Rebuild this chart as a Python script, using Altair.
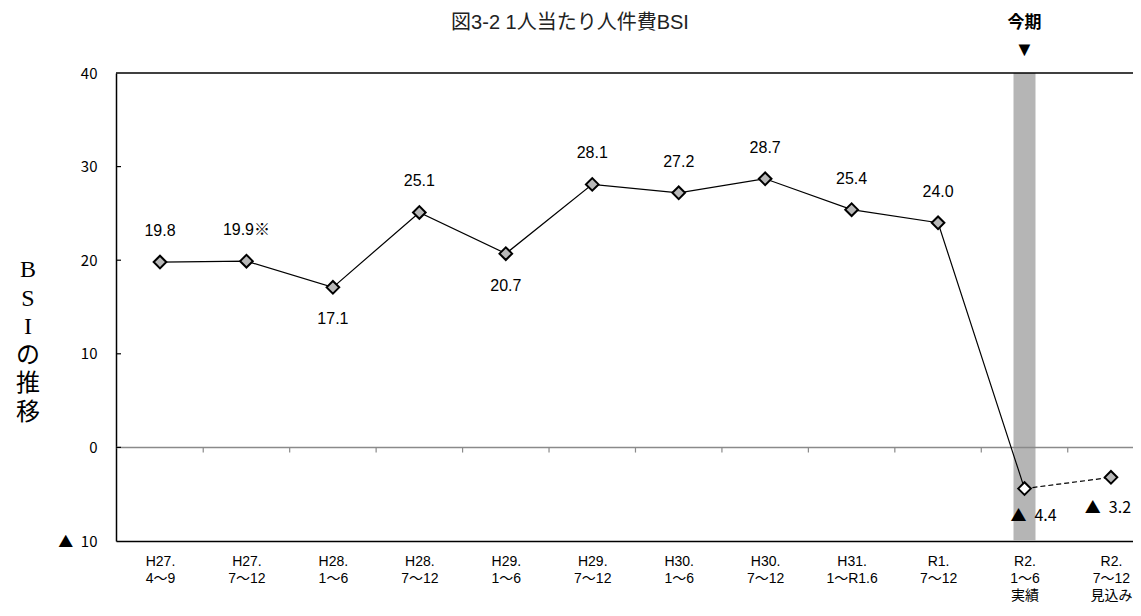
import json
import altair as alt
import pandas as pd

# ---------------- data ----------------
title_text = "図3-2 1人当たり人件費BSI"
period_line1 = ["H27.", "H27.", "H28.", "H28.", "H29.", "H29.", "H30.", "H30.", "H31.", "R1.", "R2.", "R2."]
period_line2 = ["4～9", "7～12", "1～6", "7～12", "1～6", "7～12", "1～6", "7～12", "1～R1.6", "7～12", "1～6", "7～12"]
period_line3 = ["", "", "", "", "", "", "", "", "", "", "実績", "見込み"]
bsi_values = [19.8, 19.9, 17.1, 25.1, 20.7, 28.1, 27.2, 28.7, 25.4, 24.0, -4.4, -3.2]
label_notes = ["", "※", "", "", "", "", "", "", "", "", "", ""]
labels_below = [2, 4]
current_index = 10
current_label = "今期"
current_marker = "▼"
y_ticks = [40, 30, 20, 10, 0, -10]
y_title_chars = ["B", "S", "I", "の", "推", "移"]

# ---------------- layout ----------------
W, H = 1017, 468
PAD = {"left": 108, "top": 65, "right": 0, "bottom": 62}
SANS = "'Liberation Sans', 'Noto Sans CJK JP', sans-serif"
CJK = "'Noto Sans CJK JP', sans-serif"
SERIF = "'Liberation Serif', 'Noto Sans CJK JP', serif"

n = len(bsi_values)
idx = list(range(n))
labels = [("▲\u2002" if v < 0 else "") + f"{abs(v):.1f}" + note for v, note in zip(bsi_values, label_notes)]
pos = []
for i, v in enumerate(bsi_values):
    if v < 0:
        pos.append("cur" if i == current_index else "fut")
    else:
        pos.append("below" if i in labels_below else "above")
df = pd.DataFrame({"idx": idx, "v": bsi_values, "label": labels, "pos": pos})

axis_labels = []
for a, b, c in zip(period_line1, period_line2, period_line3):
    axis_labels.append([a, b] + ([c] if c else []))
label_expr = json.dumps(axis_labels, ensure_ascii=False) + "[datum.value]"

xscale = alt.Scale(domain=[-0.509, 11.255], nice=False, zero=False, padding=0)
yscale = alt.Scale(domain=[-10, 40], nice=False, zero=False, padding=0)

X = alt.X("idx:Q", scale=xscale, axis=alt.Axis(
    values=idx, labelExpr=label_expr, title=None, grid=False, ticks=False,
    domainColor="black", domainWidth=1.5, labelFont=SANS, labelFontSize=14,
    labelColor="black", labelPadding=13, labelLineHeight=17, labelOverlap=False,
    labelFlush=False, labelBound=False, labelBaseline="top"))
Y = alt.Y("v:Q", scale=yscale, axis=alt.Axis(
    values=y_ticks, labelExpr="datum.value < 0 ? '▲\u2002' + abs(datum.value) : datum.value",
    title=None, grid=False, ticks=False, domainColor="black", domainWidth=1.5,
    labelFont=CJK, labelFontSize=15, labelColor="black", labelPadding=19))

base = alt.Chart(df)

band_df = pd.DataFrame({"i": [current_index], "top": [max(y_ticks)], "bot": [min(y_ticks)]})
band = alt.Chart(band_df).mark_bar(size=22, color="#b5b5b5").encode(
    x=alt.X("i:Q", scale=xscale), y=alt.Y("top:Q", scale=yscale), y2="bot:Q")

zero_line = alt.Chart(pd.DataFrame({"z": [0]})).mark_rule(color="#8a8a8a", strokeWidth=1.5).encode(
    y=alt.Y("z:Q", scale=yscale), x=alt.value(0), x2=alt.value(W))

bounds = pd.DataFrame({"b": [i + 0.5 for i in range(n - 1)], "z": 0, "z2": -0.55})
bound_ticks = alt.Chart(bounds).mark_rule(color="#8a8a8a", strokeWidth=1.2).encode(
    x=alt.X("b:Q", scale=xscale), y=alt.Y("z:Q", scale=yscale), y2="z2:Q")

top_border = alt.Chart(pd.DataFrame({"t": [max(y_ticks)]})).mark_rule(color="black", strokeWidth=1.5).encode(
    y=alt.Y("t:Q", scale=yscale), x=alt.value(0), x2=alt.value(W))

ytick_marks = alt.Chart(pd.DataFrame({"t": y_ticks[1:-1]})).mark_rule(color="black", strokeWidth=1.2).encode(
    y=alt.Y("t:Q", scale=yscale), x=alt.value(0), x2=alt.value(5))

solid = base.transform_filter(f"datum.idx <= {current_index}").mark_line(
    color="black", strokeWidth=1.2).encode(x=X, y=Y)
dashed = base.transform_filter(f"datum.idx >= {current_index}").mark_line(
    color="black", strokeWidth=1.2, strokeDash=[5, 3]).encode(x=X, y=Y)

points = base.mark_point(shape="diamond", size=160, filled=True, stroke="black",
                         strokeWidth=2, opacity=1).encode(
    x=X, y=Y,
    fill=alt.condition(f"datum.idx == {current_index}", alt.value("white"), alt.value("#b8b8b8")))

txt = dict(font=SANS, fontSize=16, color="black")
above = base.transform_filter("datum.pos == 'above'").mark_text(dy=-31, **txt).encode(
    x=X, y=Y, text="label:N")
below = base.transform_filter("datum.pos == 'below'").mark_text(dy=32, **txt).encode(
    x=X, y=Y, text="label:N")
neg_cur = base.transform_filter("datum.pos == 'cur'").mark_text(
    dy=27, dx=9, font=CJK, fontSize=16, color="black").encode(x=X, y=Y, text="label:N")
neg_fut = base.transform_filter("datum.pos == 'fut'").mark_text(
    dy=31, dx=-3, font=CJK, fontSize=16, color="black").encode(x=X, y=Y, text="label:N")

one = pd.DataFrame({"i": [current_index], "t": [current_label], "m": [current_marker]})
cur_text = alt.Chart(one).mark_text(font=CJK, fontSize=17, fontWeight="bold", color="black").encode(
    x=alt.X("i:Q", scale=xscale), y=alt.value(-50), text="t:N")
cur_mark = alt.Chart(one).mark_text(font=SANS, fontSize=20, color="black").encode(
    x=alt.X("i:Q", scale=xscale), y=alt.value(-23), text="m:N")

title_mark = alt.Chart(pd.DataFrame({"t": [title_text]})).mark_text(
    font=SANS, fontSize=20, color="#222222", baseline="alphabetic").encode(
    x=alt.value(570 - 116), y=alt.value(-44), text="t:N")

ytitle = alt.Chart(pd.DataFrame({"a": [0]})).mark_text(
    text=y_title_chars, font=SERIF, fontSize=24, lineHeight=28.6, color="black",
    baseline="middle").encode(x=alt.value(-88), y=alt.value(197))

chart = alt.layer(
    band, zero_line, bound_ticks, top_border, ytick_marks, solid, dashed, points,
    above, below, neg_cur, neg_fut, cur_text, cur_mark, title_mark, ytitle
).properties(
    width=W, height=H,
    autosize=alt.AutoSizeParams(type="none"),
    padding=PAD,
).configure_view(stroke=None)

chart.save("out.html", embed_options={"renderer": "svg", "actions": False})
